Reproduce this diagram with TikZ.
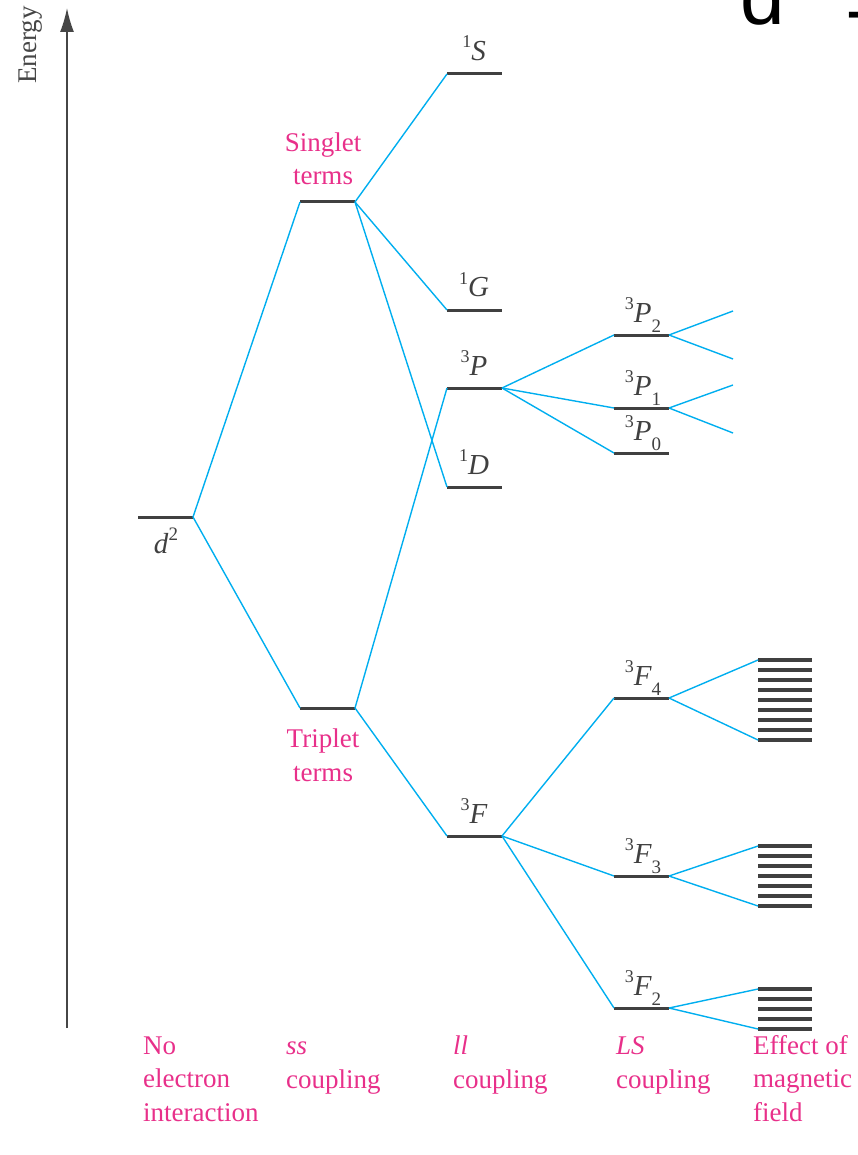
\documentclass[tikz,border=0pt]{standalone}
\usepackage{fontspec}
\setmainfont{Liberation Serif}
\newfontfamily\bigsans{Liberation Sans}
\usetikzlibrary{arrows.meta}
\definecolor{pinklab}{RGB}{232,48,138}
\definecolor{cyanl}{RGB}{0,174,239}
\definecolor{lev}{RGB}{64,64,64}
\newcommand{\trm}[3]{\raisebox{13pt}{\fontsize{18}{18}\selectfont #1}\textit{#2}\raisebox{-10pt}{\fontsize{19}{19}\selectfont #3}}
\begin{document}
\begin{tikzpicture}[x=1pt,y=-1pt,
  levelline/.style={draw=lev,line width=3pt},
  mline/.style={draw=lev,line width=3.2pt},
  conn/.style={draw=cyanl,line width=1.4pt},
  lab/.style={text=lev,inner sep=0pt,anchor=base,font=\fontsize{29}{29}\selectfont},
  plab/.style={text=pinklab,inner sep=0pt,anchor=base,align=#1,font=\fontsize{27}{33.5}\selectfont},
  plab/.default=left]
\useasboundingbox (0,0) rectangle (858,1155);
\clip (0,0) rectangle (858,1155);
% axis
\coordinate (ax0) at (67,1028);
\coordinate (ax1) at (67,8);
\draw[draw={rgb,255:red,70;green,70;blue,70},line width=1.5pt,-{Latex[length=24pt,width=14pt]}] (ax0) -- (ax1);
\node[rotate=90,anchor=base,inner sep=0pt,text={rgb,255:red,70;green,70;blue,70},font=\fontsize{27}{27}\selectfont] (energy) at (36,45) {Energy};
% title (cut off at the edge, as in the reference)
\node[anchor=base west,inner sep=0pt,font=\bigsans\fontsize{80}{80}\selectfont] (title) at (740,25) {d\raisebox{28pt}{\fontsize{48}{48}\selectfont 2}\kern34pt\raisebox{-7pt}{=}};
% levels
\foreach \n/\x/\y in {d/138/517, sg/300/202, tr/300/708, S/447/74, G/447/310, P/447/388, D/447/487, F/447/836, Ptwo/614/335, Pone/614/408, Pzero/614/453, Ffour/614/698, Fthree/614/876, Ftwo/614/1008}{
  \coordinate (\n L) at (\x,\y);
  \coordinate (\n R) at (\x+55,\y);
  \draw[levelline] (\n L) -- (\n R);
}
% magnetic sublevels
\foreach \n/\y/\k in {four/660/8, three/846/6, two/989/4}{
  \foreach \i in {0,...,\k}{
    \draw[mline] (758,\y+\i*10) -- (812,\y+\i*10);
  }
}
\coordinate (mFfourT) at (758,660);
\coordinate (mFfourB) at (758,740);
\coordinate (mFthreeT) at (758,846);
\coordinate (mFthreeB) at (758,906);
\coordinate (mFtwoT) at (758,989);
\coordinate (mFtwoB) at (758,1029);
\coordinate (eP2a) at (733,311);
\coordinate (eP2b) at (733,359);
\coordinate (eP1a) at (733,385);
\coordinate (eP1b) at (733,433);
% connectors
\draw[conn] (dR) -- (sgL);
\draw[conn] (dR) -- (trL);
\draw[conn] (sgR) -- (SL);
\draw[conn] (sgR) -- (GL);
\draw[conn] (sgR) -- (DL);
\draw[conn] (trR) -- (PL);
\draw[conn] (trR) -- (FL);
\draw[conn] (PR) -- (PtwoL);
\draw[conn] (PR) -- (PoneL);
\draw[conn] (PR) -- (PzeroL);
\draw[conn] (FR) -- (FfourL);
\draw[conn] (FR) -- (FthreeL);
\draw[conn] (FR) -- (FtwoL);
\draw[conn] (PtwoR) -- (eP2a);
\draw[conn] (PtwoR) -- (eP2b);
\draw[conn] (PoneR) -- (eP1a);
\draw[conn] (PoneR) -- (eP1b);
\draw[conn] (FfourR) -- (mFfourT);
\draw[conn] (FfourR) -- (mFfourB);
\draw[conn] (FthreeR) -- (mFthreeT);
\draw[conn] (FthreeR) -- (mFthreeB);
\draw[conn] (FtwoR) -- (mFtwoT);
\draw[conn] (FtwoR) -- (mFtwoB);
% level labels
\node[lab] (dlab) at (166,553) {\textit{d}\raisebox{13pt}{\fontsize{19}{19}\selectfont 2}};
\node[lab] (Slab) at (474,61) {\trm{1}{S}{}};
\node[lab] (Glab) at (474,297) {\trm{1}{G}{}};
\node[lab] (Plab) at (474,375) {\trm{3}{P}{}};
\node[lab] (Dlab) at (474,474) {\trm{1}{D}{}};
\node[lab] (Flab) at (474,823) {\trm{3}{F}{}};
\node[lab] (P2lab) at (643,322) {\trm{3}{P}{2}};
\node[lab] (P1lab) at (643,395) {\trm{3}{P}{1}};
\node[lab] (P0lab) at (643,440) {\trm{3}{P}{0}};
\node[lab] (F4lab) at (643,685) {\trm{3}{F}{4}};
\node[lab] (F3lab) at (643,863) {\trm{3}{F}{3}};
\node[lab] (F2lab) at (643,995) {\trm{3}{F}{2}};
% pink labels (base anchor = baseline of the last line)
\node[plab=center] (singlet) at (323,185) {Singlet\\terms};
\node[plab=center] (triplet) at (323,781) {Triplet\\terms};
\node[plab,anchor=base west] (c1) at (143,1121) {No\\electron\\interaction};
\node[plab,anchor=base west] (c2) at (286,1088) {\textit{ss}\\coupling};
\node[plab,anchor=base west] (c3) at (453,1088) {\textit{ll}\\coupling};
\node[plab,anchor=base west] (c4) at (616,1088) {\textit{LS}\\coupling};
\node[plab,anchor=base west] (c5) at (753,1121) {Effect of\\magnetic\\field};
\end{tikzpicture}
\end{document}
